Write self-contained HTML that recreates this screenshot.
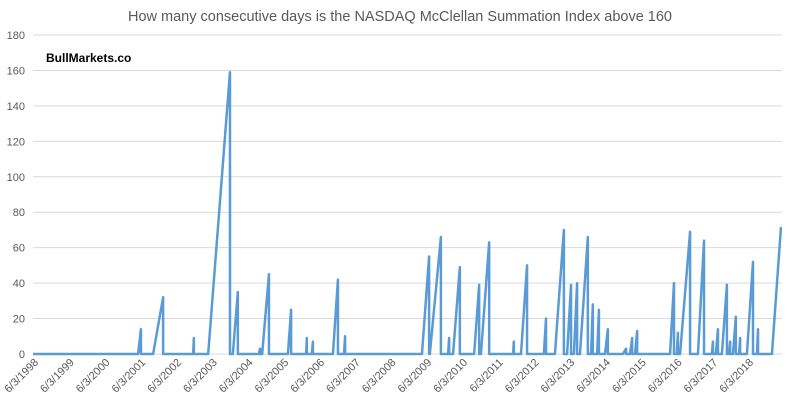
<!DOCTYPE html>
<html><head><meta charset="utf-8"><style>
body{margin:0;background:#fff;font-family:"Liberation Sans",sans-serif}
svg text{font-family:"Liberation Sans",sans-serif}
</style></head><body>
<svg id="chart" width="800" height="404">
<text x="400" y="21" text-anchor="middle" font-size="14.5" fill="#595959">How many consecutive days is the NASDAQ McClellan Summation Index above 160</text>
<text x="46" y="62" font-size="12" font-weight="bold" fill="#000">BullMarkets.co</text>
<g id="grid"></g><g id="xaxis"></g><path id="line" fill="none" stroke="#5b9bd5" stroke-width="2.5" stroke-linejoin="round"/>
</svg>
<script>
const startYears=[2001.36,2001.78,2002.90,2003.32,2004.01,2004.74,2004.83,2005.55,2006.06,2006.22,2006.81,2007.12,2009.30,2009.52,2010.03,2010.17,2010.76,2010.95,2011.85,2012.07,2012.71,2013.02,2013.36,2013.55,2013.72,2014.03,2014.20,2014.42,2014.92,2015.12,2015.26,2016.24,2016.43,2016.52,2017.02,2017.41,2017.52,2017.69,2017.89,2018.00,2018.17,2018.39,2018.67,2019.09];
const peakYears=[2001.44,2002.06,2002.92,2003.93,2004.15,2004.77,2005.02,2005.64,2006.08,2006.25,2006.95,2007.15,2009.50,2009.83,2010.06,2010.36,2010.90,2011.18,2011.87,2012.24,2012.77,2013.27,2013.47,2013.64,2013.94,2014.08,2014.25,2014.50,2015.01,2015.18,2015.32,2016.35,2016.46,2016.80,2017.19,2017.44,2017.58,2017.83,2017.92,2018.08,2018.20,2018.56,2018.70,2019.34];
const peakValues=[14,32,9,159,35,3,45,25,9,7,42,10,55,66,9,49,39,63,7,50,20,70,39,40,66,28,25,14,3,9,13,40,12,69,64,7,14,39,7,21,9,52,14,71];
const yTicks=[0,20,40,60,80,100,120,140,160,180];
const xTickLabels=["6/3/1998","6/3/1999","6/3/2000","6/3/2001","6/3/2002","6/3/2003","6/3/2004","6/3/2005","6/3/2006","6/3/2007","6/3/2008","6/3/2009","6/3/2010","6/3/2011","6/3/2012","6/3/2013","6/3/2014","6/3/2015","6/3/2016","6/3/2017","6/3/2018"];
const x0=1998.42,xEnd=2019.37;
const X=y=>33+(y-x0)*35.75, Y=v=>354-v*(319/180);
const NS="http://www.w3.org/2000/svg";
const grid=document.getElementById('grid');
yTicks.forEach(t=>{
 if(t>0){const l=document.createElementNS(NS,'line');
 l.setAttribute('x1',33);l.setAttribute('x2',X(xEnd));l.setAttribute('y1',Y(t));l.setAttribute('y2',Y(t));
 l.setAttribute('stroke','#d9d9d9');
 
 
 grid.appendChild(l);}
 const tx=document.createElementNS(NS,'text');
 tx.setAttribute('x',25);tx.setAttribute('y',Y(t)+4);tx.setAttribute('text-anchor','end');tx.setAttribute('font-size','11');tx.setAttribute('fill','#595959');
 tx.textContent=t;
 
 
 grid.appendChild(tx);
});
const xa=document.getElementById('xaxis');
const ax=document.createElementNS(NS,'line');
ax.setAttribute('x1',33);ax.setAttribute('x2',X(xEnd));ax.setAttribute('y1',354);ax.setAttribute('y2',354);ax.setAttribute('stroke','#d9d9d9');


xa.appendChild(ax);
xTickLabels.forEach((s,i)=>{
 const x=X(x0+i)+6;
 const tx=document.createElementNS(NS,'text');
 tx.setAttribute('x',x);tx.setAttribute('y',363);tx.setAttribute('text-anchor','end');tx.setAttribute('font-size','11');tx.setAttribute('fill','#595959');
 tx.setAttribute('transform','rotate(-45 '+x+' 363)');
 tx.textContent=s;
 
 
 xa.appendChild(tx);
});
let d='M'+X(x0)+' '+Y(0);
startYears.forEach((s,i)=>{
 d+=' L'+X(s)+' '+Y(0)+' L'+X(peakYears[i])+' '+Y(peakValues[i]);
 if(i<startYears.length-1) d+=' L'+X(peakYears[i])+' '+Y(0);
});
d+=' L'+X(xEnd)+' '+Y(peakValues[peakValues.length-1]);
document.getElementById('line').setAttribute('d',d);
</script>
</body></html>
